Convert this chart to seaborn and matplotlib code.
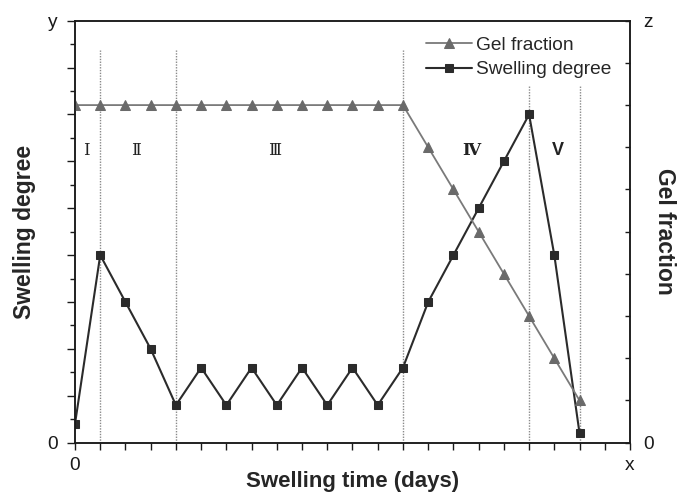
import matplotlib
matplotlib.use("Agg")
import matplotlib.pyplot as plt
import seaborn as sns
import numpy as np

# Swelling time points (days) and the two measured series
days = list(range(21))
swelling_degree = [0.4, 4.0, 3.0, 2.0, 0.8, 1.6, 0.8, 1.6, 0.8, 1.6, 0.8,
                   1.6, 0.8, 1.6, 3.0, 4.0, 5.0, 6.0, 7.0, 4.0, 0.2]
gel_fraction = [8, 8, 8, 8, 8, 8, 8, 8, 8, 8, 8, 8, 8, 8,
                7, 6, 5, 4, 3, 2, 1]

# Stage boundaries and stage labels
stage_bounds = [1, 4, 13, 18, 20]
stage_names = ["Ⅰ", "Ⅱ", "Ⅲ", "Ⅳ", "V"]
stage_x = [0.46, 2.42, 7.93, 15.72, 19.14]

x_ticklabels = ["0"] + [""] * 21 + ["x"]
y_ticklabels = ["0"] + [""] * 8 + ["y"]
z_ticklabels = ["0"] + [""] * 9 + ["z"]

sns.set_theme(style="ticks")
plt.rcParams["font.family"] = ["Liberation Sans", "DejaVu Sans"]
plt.rcParams["axes.linewidth"] = 1.1
plt.rcParams["axes.edgecolor"] = "#1a1a1a"

fig = plt.figure(figsize=(6.83, 4.95), dpi=100)
ax = fig.add_axes([0.1098, 0.1057, 0.8126, 0.8525])
ax2 = ax.twinx()

dark = "#2b2b2b"
grey = "#7a7a7a"

sns.lineplot(x=days, y=swelling_degree, ax=ax, color=dark, linewidth=1.5,
             marker="s", markersize=6, markeredgecolor=dark,
             markerfacecolor=dark, label="Swelling degree", legend=False)
sns.lineplot(x=days, y=gel_fraction, ax=ax2, color=grey, linewidth=1.3,
             marker="^", markersize=7.5, markeredgecolor="#6a6a6a",
             markerfacecolor="#6a6a6a", label="Gel fraction", legend=False)

# dotted stage boundaries
tops = [0.9306, 0.9306, 0.9306, 0.8476, 0.8476]
for xb, top in zip(stage_bounds, tops):
    ax.axvline(xb, ymin=0, ymax=top, color="#8a8a8a", linestyle=(0, (1, 1)),
               linewidth=1.0, zorder=0)

# stage numerals
for name, xs in zip(stage_names, stage_x):
    if name == "Ⅳ":
        ax.text(xs, 6.24, name, ha="center", va="center", fontsize=12,
                fontweight="bold", family=["DejaVu Serif", "DejaVu Sans"],
                color="#222222")
    elif name == "V":
        ax.text(xs, 6.24, name, ha="center", va="center", fontsize=13,
                fontweight="bold", family=["Liberation Sans", "DejaVu Sans"],
                color="#222222")
    else:
        ax.text(xs, 6.24, name, ha="center", va="center", fontsize=12,
                family=["DejaVu Serif", "DejaVu Sans"], color="#222222")

# axes ranges and ticks
ax.set_xlim(0, 22)
ax.set_xticks(range(23))
ax.set_xticklabels(x_ticklabels, fontsize=13.8)
ax.set_ylim(0, 9)
ax.set_yticks(range(10))
ax.set_yticklabels(y_ticklabels, fontsize=13.8)
ax.set_yticks(np.arange(0.5, 9, 1.0), minor=True)
ax.tick_params(axis="x", direction="out", length=5, width=1.0, pad=5.5,
               colors="#1a1a1a")
ax.tick_params(axis="y", which="major", direction="out", length=5.8,
               width=1.0, pad=6.5, colors="#1a1a1a")
ax.tick_params(axis="y", which="minor", direction="out", length=3.6,
               width=1.0, colors="#1a1a1a")

ax2.set_ylim(0, 10)
ax2.set_yticks(range(11))
ax2.set_yticklabels(z_ticklabels, fontsize=13.8)
ax2.tick_params(axis="y", direction="in", length=3.6, width=1.0, pad=9.5,
                colors="#1a1a1a")

for a in (ax, ax2):
    for sp in a.spines.values():
        sp.set_visible(True)
        sp.set_linewidth(1.1)
        sp.set_color("#1a1a1a")

ax.set_xlabel("Swelling time (days)", fontsize=16, fontweight="bold")
ax.xaxis.set_label_coords(0.5, -0.066)
ax.set_ylabel("Swelling degree", fontsize=16.5, fontweight="bold")
ax.yaxis.set_label_coords(-0.070, 0.5)
ax2.set_ylabel("Gel fraction", fontsize=16.5, fontweight="bold",
               rotation=270, va="bottom")
ax2.yaxis.set_label_coords(1.0414, 0.5)

h1, l1 = ax.get_legend_handles_labels()
h2, l2 = ax2.get_legend_handles_labels()
leg = ax2.legend(h2 + h1, l2 + l1, loc="upper left",
                 bbox_to_anchor=(0.6324, 0.962), frameon=False,
                 fontsize=13.8, handlelength=2.4, handletextpad=0.2,
                 labelspacing=0.35, borderpad=0, borderaxespad=0,
                 numpoints=1)

fig.savefig("out.png", dpi=100)
